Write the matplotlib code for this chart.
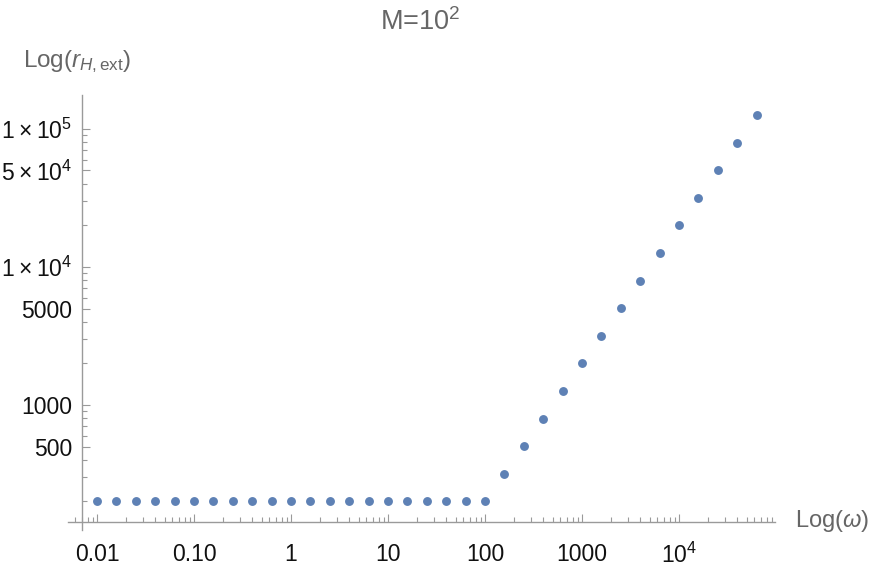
import numpy as np
import matplotlib
matplotlib.use("Agg")
import matplotlib.pyplot as plt
from matplotlib.ticker import FixedLocator, NullFormatter

plt.rcParams['font.family'] = ['Liberation Sans', 'DejaVu Sans']
plt.rcParams['mathtext.fontset'] = 'custom'
plt.rcParams['mathtext.rm'] = 'Liberation Sans'
plt.rcParams['mathtext.it'] = 'Liberation Sans:italic'
plt.rcParams['mathtext.bf'] = 'Liberation Sans:bold'

# data
omega = [0.01, 0.0158, 0.0251, 0.0398, 0.0631, 0.1, 0.158, 0.251, 0.398, 0.631,
         1, 1.58, 2.51, 3.98, 6.31, 10, 15.8, 25.1, 39.8, 63.1,
         100, 158, 251, 398, 631, 1000, 1585, 2512, 3981, 6310,
         10000, 15849, 25119, 39811, 63096]
r_ext = [200] * 21 + [316, 502, 796, 1262, 2000, 3170, 5024, 7962, 12619,
                      20000, 31698, 50238, 79621, 126191]

xticks = [0.01, 0.1, 1, 10, 100, 1000, 1e4]
xticklabels = ['0.01', '0.10', '1', '10', '100', '1000', r'10$^{4}$']
yticks = [500, 1000, 5000, 1e4, 5e4, 1e5]
yticklabels = ['500', '1000', '5000', '1\u2009×\u200910$^{4}$',
               '5\u2009×\u200910$^{4}$', '1\u2009×\u200910$^{5}$']

W, H = 872, 574
fig = plt.figure(figsize=(W / 100, H / 100), dpi=100)
# axes box in pixels: left 68, right 775, top 95, bottom 530
ax = fig.add_axes([68 / W, 1 - 530 / H, (775 - 68) / W, (530 - 95) / H])

ax.set_xscale('log')
ax.set_yscale('log')
ax.set_xlim(10 ** -2.299, 10 ** 4.99)
ax.set_ylim(10 ** 2.094, 10 ** 5.246)

ax.plot(omega, r_ext, 'o', color='#5E81B5', markersize=6.4, markeredgewidth=0, clip_on=False)

axcol = '#9a9a9a'
for s in ['top', 'right']:
    ax.spines[s].set_visible(False)
ax.spines['left'].set_position(('data', 10 ** -2.155))
ax.spines['bottom'].set_position(('data', 10 ** 2.152))
ax.spines['left'].set_color(axcol)
ax.spines['bottom'].set_color(axcol)
ax.spines['left'].set_linewidth(1.0)
ax.spines['bottom'].set_linewidth(1.0)

ax.xaxis.set_major_locator(FixedLocator(xticks))
ax.set_xticklabels(xticklabels)
xminor = [m * 10.0 ** e for e in range(-3, 5) for m in range(2, 10)]
ax.xaxis.set_minor_locator(FixedLocator(xminor))
ax.xaxis.set_minor_formatter(NullFormatter())

ax.yaxis.set_major_locator(FixedLocator(yticks))
ax.set_yticklabels(yticklabels)
yminor = [m * 10.0 ** e for e in range(2, 6) for m in range(1, 10)]
yminor = [v for v in yminor if v not in yticks]
ax.yaxis.set_minor_locator(FixedLocator(yminor))
ax.yaxis.set_minor_formatter(NullFormatter())

ax.tick_params(which='both', direction='in', color=axcol, width=0.8)
ax.tick_params(which='major', length=6)
ax.tick_params(which='minor', length=3.5)
ax.tick_params(axis='x', which='major', pad=15, labelsize=16.5, labelcolor='#111111')
ax.tick_params(axis='y', which='major', pad=7, labelsize=16.5, labelcolor='#111111')

fig.text(420 / W, 1 - 22 / H, r'M=10$^{2}$', ha='center', va='center',
         fontsize=19.5, color='#666666')
fig.text(23 / W, 1 - 62 / H, r'Log($r_{H,\mathrm{ext}}$)', ha='left', va='center',
         fontsize=17.5, color='#666666')
fig.text(795 / W, 1 - 521 / H, r'Log($\omega$)', ha='left', va='center',
         fontsize=17, color='#666666')

fig.savefig('out.png', dpi=100)
